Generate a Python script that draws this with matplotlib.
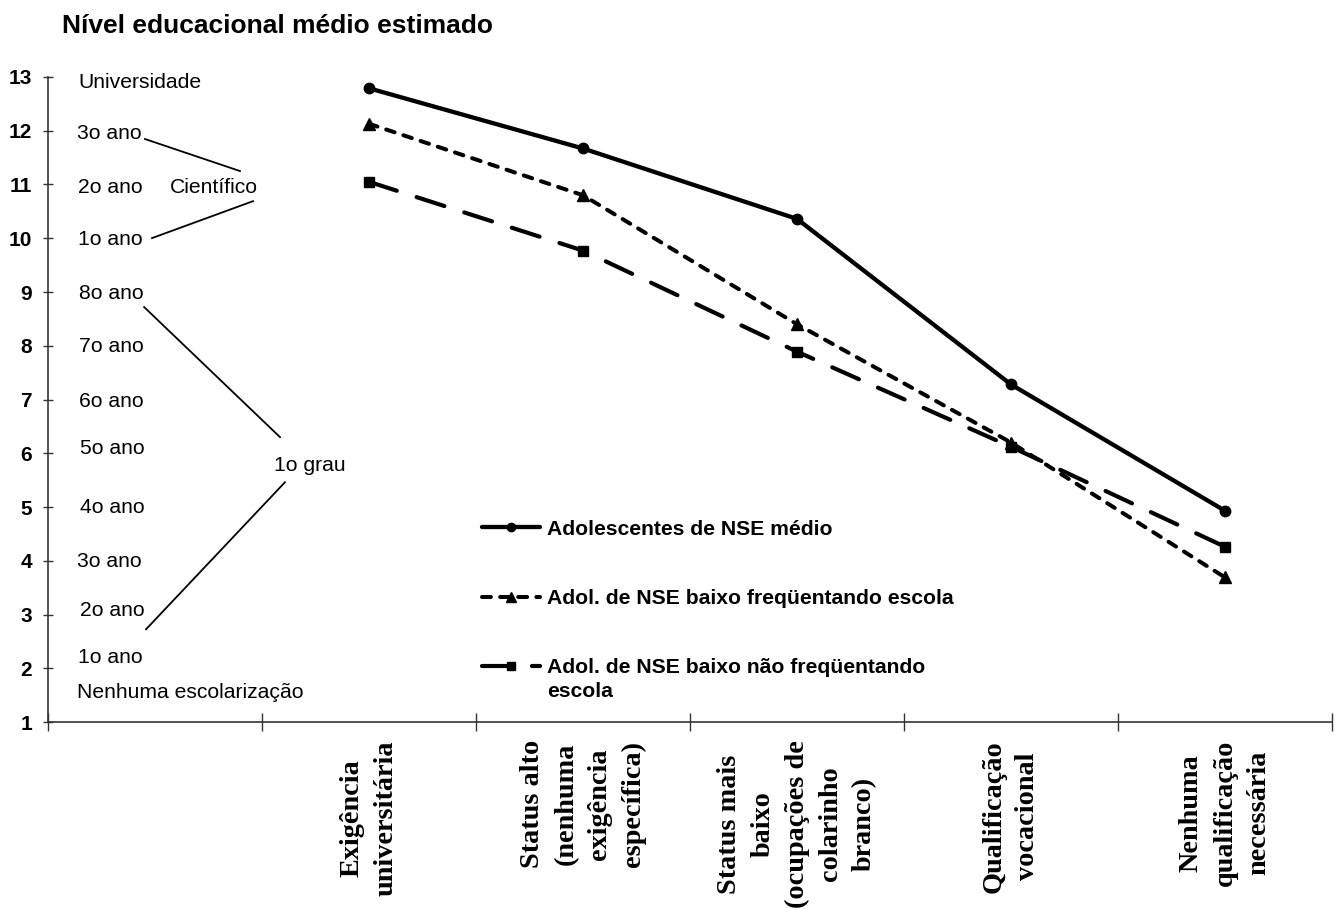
import matplotlib
matplotlib.use("Agg")
import matplotlib.pyplot as plt

# Occupational categories (first slot left empty for the schooling scale)
categories = [
    "",
    "Exigência\nuniversitária",
    "Status alto\n(nenhuma\nexigência\nespecífica)",
    "Status mais\nbaixo\n(ocupações de\ncolarinho\nbranco)",
    "Qualificação\nvocacional",
    "Nenhuma\nqualificação\nnecessária",
]

# Estimated mean educational level per group
nse_medio = [12.79, 11.67, 10.36, 7.28, 4.93]
nse_baixo_escola = [12.13, 10.80, 8.40, 6.20, 3.69]
nse_baixo_fora = [11.05, 9.77, 7.89, 6.12, 4.26]

series_labels = [
    "Adolescentes de NSE médio",
    "Adol. de NSE baixo freqüentando escola",
    "Adol. de NSE baixo não freqüentando",
]
series_label_continuation = "escola"

y_ticks = list(range(1, 14))

# Schooling scale written inside the plot: (text, x, y)
school_levels = [
    ("Universidade", 0.140, 12.89),
    ("3o ano", 0.136, 11.94),
    ("2o ano", 0.140, 10.95),
    ("1o ano", 0.140, 9.97),
    ("8o ano", 0.145, 8.98),
    ("7o ano", 0.145, 7.99),
    ("6o ano", 0.145, 6.97),
    ("5o ano", 0.150, 6.08),
    ("4o ano", 0.150, 5.00),
    ("3o ano", 0.136, 3.99),
    ("2o ano", 0.150, 3.08),
    ("1o ano", 0.140, 2.20),
    ("Nenhuma escolarização", 0.136, 1.55),
]
group_labels = [
    ("Científico", 0.570, 10.95),
    ("1o grau", 1.056, 5.78),
]
# Brackets joining grades to their group label
bracket_lines = [
    ((0.453, 0.897), (11.846, 11.25)),
    ((0.486, 0.958), (10.003, 10.69)),
    ((0.449, 1.084), (8.72, 6.30)),
    ((0.458, 1.107), (2.725, 5.46)),
]

SANS = "Liberation Sans"
SERIF = "Liberation Serif"

fig = plt.figure(figsize=(13.38, 9.09), dpi=100)
ax = fig.add_axes([0.0359, 0.2057, 0.9596, 0.7096])

xs = [i + 0.5 for i in range(1, len(categories))]

ax.plot(xs, nse_medio, color="black", lw=3.1, marker="o", ms=7.5,
        solid_capstyle="round", label=series_labels[0])
ax.plot(xs, nse_baixo_escola, color="black", lw=2.9, marker="^", ms=8.5,
        dashes=(2.2, 2.3), dash_capstyle="round", label=series_labels[1])
ax.plot(xs, nse_baixo_fora, color="black", lw=3, marker="s", ms=7.5,
        dashes=(7, 5), dash_capstyle="round", label=series_labels[2])

ax.set_xlim(0, len(categories))
ax.set_ylim(1, 13)

# Category boundaries as major ticks, category names on minor ticks
ax.set_xticks(range(0, len(categories) + 1))
ax.set_xticklabels([])
ax.set_xticks([i + 0.5 for i in range(len(categories))], minor=True)
ax.set_xticklabels(categories, minor=True, rotation=90, fontsize=20.3,
                   fontweight="bold", family=SERIF, multialignment="center",
                   linespacing=1.45)
ax.tick_params(axis="x", which="major", direction="inout", length=13,
               width=1, color="#333333")
ax.tick_params(axis="x", which="minor", length=0, pad=13)

ax.set_yticks(y_ticks)
ax.set_yticklabels([str(v) for v in y_ticks], fontsize=15, fontweight="bold",
                   family=SANS)
ax.tick_params(axis="y", direction="inout", length=7, width=1,
               color="#333333", pad=8)

for side in ("top", "right"):
    ax.spines[side].set_visible(False)
for side in ("left", "bottom"):
    ax.spines[side].set_color("#333333")
    ax.spines[side].set_linewidth(1.2)

for text, x, y in school_levels + group_labels:
    ax.text(x, y, text, fontsize=15.2, family=SANS, ha="left", va="center")
for bx, by in bracket_lines:
    ax.plot(bx, by, color="black", lw=1.3)

legend_font = {"family": SANS, "weight": "bold", "size": 15.2}
leg = ax.legend(loc="upper left", bbox_to_anchor=(0.338, 0.3135),
                frameon=False, prop=legend_font,
                handlelength=2.75, handletextpad=0.35, labelspacing=2.38,
                borderpad=0, borderaxespad=0, markerscale=0.8)

# Second line of the last legend entry, hanging under its first line
ax.annotate(series_label_continuation, xy=(0, 0),
            xycoords=leg.get_texts()[2], xytext=(0, -3.5),
            textcoords="offset points", ha="left", va="top",
            fontsize=15.2, fontweight="bold", family=SANS, zorder=10)

fig.text(0.0463, 0.9715, "Nível educacional médio estimado", fontsize=19,
         fontweight="bold", family=SANS, ha="left", va="center")

fig.canvas.draw()
fig.savefig("out.png", dpi=100, facecolor="white")
